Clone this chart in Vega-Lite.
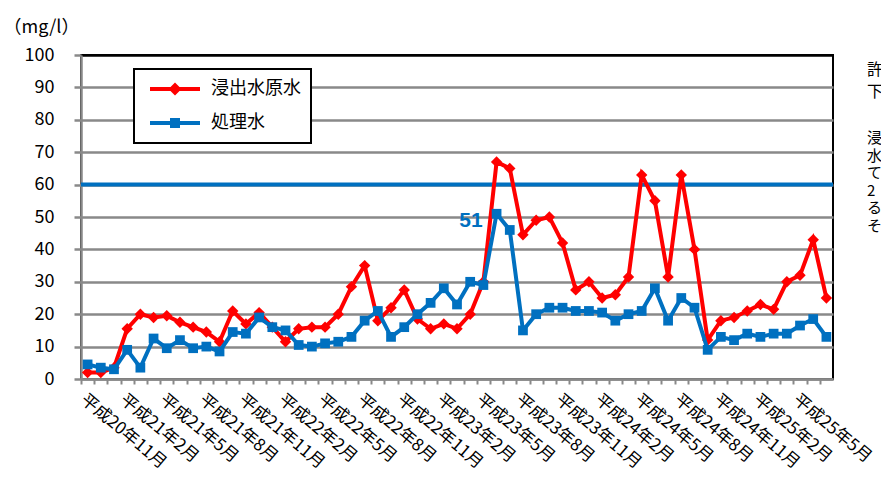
{
  "$schema": "https://vega.github.io/schema/vega-lite/v6.json",
  "width": 752,
  "height": 324,
  "autosize": {"type": "none"},
  "padding": {"left": 81, "top": 55, "right": 48, "bottom": 99},
  "background": "white",
  "config": {
    "font": "Noto Sans CJK JP",
    "view": {"stroke": "black", "strokeWidth": 2},
    "axisY": {
      "domainColor": "#898989", "domainWidth": 2.5,
      "tickColor": "#898989", "tickWidth": 2.5, "tickSize": 7,
      "gridWidth": 2.5,
      "labelFont": "Noto Sans CJK JP", "labelFontSize": 18, "labelColor": "black", "labelPadding": 20
    },
    "axisX": {
      "domainColor": "#898989", "domainWidth": 2.5,
      "tickColor": "#898989", "tickWidth": 2, "tickSize": 5,
      "labelFont": "Noto Sans CJK JP", "labelFontSize": 17, "labelColor": "black"
    }
  },
  "title": {
    "text": "COD", "font": "Liberation Sans", "fontSize": 31, "fontWeight": "bold",
    "color": "black", "anchor": "middle", "dx": 13, "offset": 10, "baseline": "alphabetic"
  },
  "datasets": {
    "cod": [
      {"month": "平成20年11月", "浸出水原水": 2, "処理水": 4.5},
      {"month": "平成20年12月", "浸出水原水": 2, "処理水": 3.5},
      {"month": "平成21年1月", "浸出水原水": 3.5, "処理水": 3},
      {"month": "平成21年2月", "浸出水原水": 15.5, "処理水": 9},
      {"month": "平成21年3月", "浸出水原水": 20, "処理水": 3.5},
      {"month": "平成21年4月", "浸出水原水": 19, "処理水": 12.5},
      {"month": "平成21年5月", "浸出水原水": 19.5, "処理水": 9.5},
      {"month": "平成21年6月", "浸出水原水": 17.5, "処理水": 12},
      {"month": "平成21年7月", "浸出水原水": 16, "処理水": 9.5},
      {"month": "平成21年8月", "浸出水原水": 14.5, "処理水": 10},
      {"month": "平成21年9月", "浸出水原水": 11.5, "処理水": 8.5},
      {"month": "平成21年10月", "浸出水原水": 21, "処理水": 14.5},
      {"month": "平成21年11月", "浸出水原水": 17, "処理水": 14},
      {"month": "平成21年12月", "浸出水原水": 20.5, "処理水": 19},
      {"month": "平成22年1月", "浸出水原水": 16, "処理水": 16},
      {"month": "平成22年2月", "浸出水原水": 11.5, "処理水": 15},
      {"month": "平成22年3月", "浸出水原水": 15.5, "処理水": 10.5},
      {"month": "平成22年4月", "浸出水原水": 16, "処理水": 10},
      {"month": "平成22年5月", "浸出水原水": 16, "処理水": 11},
      {"month": "平成22年6月", "浸出水原水": 20, "処理水": 11.5},
      {"month": "平成22年7月", "浸出水原水": 28.5, "処理水": 13},
      {"month": "平成22年8月", "浸出水原水": 35, "処理水": 18},
      {"month": "平成22年9月", "浸出水原水": 18, "処理水": 21},
      {"month": "平成22年10月", "浸出水原水": 22, "処理水": 13},
      {"month": "平成22年11月", "浸出水原水": 27.5, "処理水": 16},
      {"month": "平成22年12月", "浸出水原水": 18.5, "処理水": 20},
      {"month": "平成23年1月", "浸出水原水": 15.5, "処理水": 23.5},
      {"month": "平成23年2月", "浸出水原水": 17, "処理水": 28},
      {"month": "平成23年3月", "浸出水原水": 15.5, "処理水": 23},
      {"month": "平成23年4月", "浸出水原水": 20, "処理水": 30},
      {"month": "平成23年5月", "浸出水原水": 30, "処理水": 29},
      {"month": "平成23年6月", "浸出水原水": 67, "処理水": 51},
      {"month": "平成23年7月", "浸出水原水": 65, "処理水": 46},
      {"month": "平成23年8月", "浸出水原水": 44.5, "処理水": 15},
      {"month": "平成23年9月", "浸出水原水": 49, "処理水": 20},
      {"month": "平成23年10月", "浸出水原水": 50, "処理水": 22},
      {"month": "平成23年11月", "浸出水原水": 42, "処理水": 22},
      {"month": "平成23年12月", "浸出水原水": 27.5, "処理水": 21},
      {"month": "平成24年1月", "浸出水原水": 30, "処理水": 21},
      {"month": "平成24年2月", "浸出水原水": 25, "処理水": 20.5},
      {"month": "平成24年3月", "浸出水原水": 26, "処理水": 18},
      {"month": "平成24年4月", "浸出水原水": 31.5, "処理水": 20},
      {"month": "平成24年5月", "浸出水原水": 63, "処理水": 21},
      {"month": "平成24年6月", "浸出水原水": 55, "処理水": 28},
      {"month": "平成24年7月", "浸出水原水": 31.5, "処理水": 18},
      {"month": "平成24年8月", "浸出水原水": 63, "処理水": 25},
      {"month": "平成24年9月", "浸出水原水": 40, "処理水": 22},
      {"month": "平成24年10月", "浸出水原水": 12, "処理水": 9},
      {"month": "平成24年11月", "浸出水原水": 18, "処理水": 13},
      {"month": "平成24年12月", "浸出水原水": 19, "処理水": 12},
      {"month": "平成25年1月", "浸出水原水": 21, "処理水": 14},
      {"month": "平成25年2月", "浸出水原水": 23, "処理水": 13},
      {"month": "平成25年3月", "浸出水原水": 21.5, "処理水": 14},
      {"month": "平成25年4月", "浸出水原水": 30, "処理水": 14},
      {"month": "平成25年5月", "浸出水原水": 32, "処理水": 16.5},
      {"month": "平成25年6月", "浸出水原水": 43, "処理水": 18.5},
      {"month": "平成25年7月", "浸出水原水": 25, "処理水": 13}
    ]
  },
  "data": {"name": "cod"},
  "transform": [
    {"fold": ["浸出水原水", "処理水"], "as": ["series", "value"]}
  ],
  "encoding": {
    "x": {
      "field": "month", "type": "ordinal",
      "scale": {
        "type": "point", "padding": 0.5,
        "domain": ["平成20年11月", "平成20年12月", "平成21年1月", "平成21年2月", "平成21年3月", "平成21年4月", "平成21年5月", "平成21年6月", "平成21年7月", "平成21年8月", "平成21年9月", "平成21年10月", "平成21年11月", "平成21年12月", "平成22年1月", "平成22年2月", "平成22年3月", "平成22年4月", "平成22年5月", "平成22年6月", "平成22年7月", "平成22年8月", "平成22年9月", "平成22年10月", "平成22年11月", "平成22年12月", "平成23年1月", "平成23年2月", "平成23年3月", "平成23年4月", "平成23年5月", "平成23年6月", "平成23年7月", "平成23年8月", "平成23年9月", "平成23年10月", "平成23年11月", "平成23年12月", "平成24年1月", "平成24年2月", "平成24年3月", "平成24年4月", "平成24年5月", "平成24年6月", "平成24年7月", "平成24年8月", "平成24年9月", "平成24年10月", "平成24年11月", "平成24年12月", "平成25年1月", "平成25年2月", "平成25年3月", "平成25年4月", "平成25年5月", "平成25年6月", "平成25年7月"]
      },
      "axis": {
        "title": null,
        "labelAngle": 40, "labelAlign": "left", "labelBaseline": "top",
        "labelPadding": 7, "labelOverlap": false, "labelBound": false, "labelFlush": false,
        "labelExpr": "test(regexp('(年2|年5|年8|年11)月$'), datum.value) ? datum.value : ''",
        "tickOffset": -6.6, "labelOffset": 6.6, "grid": false
      }
    },
    "y": {
      "field": "value", "type": "quantitative",
      "scale": {"domain": [0, 100]},
      "axis": {
        "values": [0, 10, 20, 30, 40, 50, 60, 70, 80, 90, 100],
        "title": "（mg/l）", "titleAngle": 0, "titleX": -78, "titleY": -28,
        "titleAlign": "left", "titleBaseline": "middle",
        "titleFont": "Noto Sans CJK JP", "titleFontSize": 18, "titleFontWeight": "normal", "titleColor": "black",
        "grid": true,
        "gridColor": {"condition": {"test": "datum.value === 100", "value": "black"}, "value": "#898989"}
      }
    },
    "color": {
      "field": "series", "type": "nominal",
      "scale": {"domain": ["浸出水原水", "処理水"], "range": ["#FF0000", "#0070C0"]},
      "legend": {
        "title": null, "orient": "none", "legendX": 53, "legendY": 14,
        "padding": 10, "fillColor": "white", "strokeColor": "black",
        "symbolSize": 2500, "symbolOffset": 6, "symbolOpacity": 1, "symbolStrokeWidth": 0,
        "clipHeight": 20, "rowPadding": 14, "labelOffset": 11,
        "labelFont": "Noto Sans CJK JP", "labelFontSize": 18, "labelColor": "black", "labelLimit": 0,
        "encode": {
          "legend": {"update": {"strokeWidth": {"value": 2}}},
          "symbols": {"update": {
            "shape": {"signal": "datum.value === '浸出水原水' ? 'M-1,-0.08H1V0.08H-1ZM0,-0.26L0.26,0L0,0.26L-0.26,0Z' : 'M-1,-0.08H1V0.08H-1ZM-0.2,-0.2H0.2V0.2H-0.2Z'"},
            "fill": {"scale": "color", "field": "value"},
            "stroke": {"value": "transparent"},
            "opacity": {"value": 1}
          }}
        }
      }
    }
  },
  "layer": [
    {
      "data": {"values": [{"limit": 60}]},
      "transform": [],
      "mark": {"type": "rule", "color": "#0070C0", "strokeWidth": 4},
      "encoding": {
        "x": null,
        "color": null,
        "y": {"field": "limit", "type": "quantitative"}
      }
    },
    {
      "transform": [{"filter": "datum.series === '浸出水原水'"}],
      "mark": {"type": "line", "strokeWidth": 4}
    },
    {
      "transform": [{"filter": "datum.series === '浸出水原水'"}],
      "mark": {"type": "point", "filled": true, "shape": "diamond", "size": 130, "opacity": 1}
    },
    {
      "transform": [{"filter": "datum.series === '処理水'"}],
      "mark": {"type": "line", "strokeWidth": 4}
    },
    {
      "transform": [{"filter": "datum.series === '処理水'"}],
      "mark": {"type": "point", "filled": true, "shape": "square", "size": 95, "opacity": 1}
    },
    {
      "transform": [{"filter": "datum.series === '処理水' && datum.month === '平成23年6月'"}],
      "mark": {"type": "text", "align": "right", "baseline": "middle", "dx": -14, "dy": 7,
               "font": "Liberation Sans", "fontSize": 21, "fontWeight": "bold", "color": "#0070C0"},
      "encoding": {"text": {"field": "value", "type": "quantitative"}, "color": null}
    },
    {
      "data": {"values": [{}]},
      "transform": [],
      "mark": {"type": "text", "text": ["許", "下"], "x": 786, "y": 15, "align": "left", "baseline": "middle",
               "lineHeight": 22, "fontSize": 16, "font": "Noto Sans CJK JP", "color": "black"},
      "encoding": {"x": null, "y": null, "color": null}
    },
    {
      "data": {"values": [{}]},
      "transform": [],
      "mark": {"type": "text", "text": ["浸", "水", "て", "2", "る", "そ"], "x": 786, "y": 83, "align": "left", "baseline": "middle",
               "lineHeight": 17.5, "fontSize": 15, "font": "Noto Sans CJK JP", "color": "black"},
      "encoding": {"x": null, "y": null, "color": null}
    }
  ]
}
